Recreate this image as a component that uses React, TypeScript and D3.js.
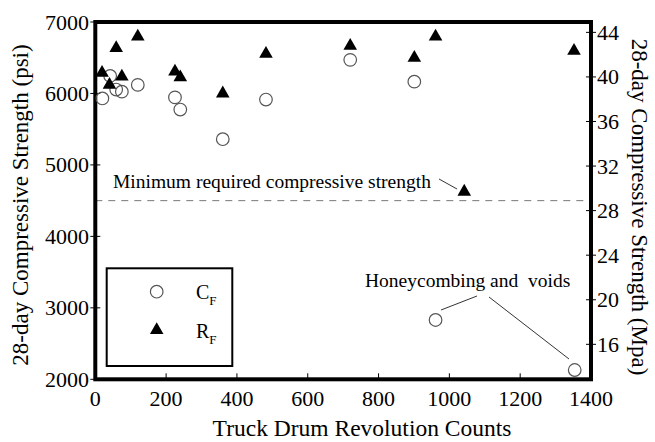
import React from "react";
import * as d3 from "d3";

const cfCounts = [20, 42, 59, 75, 120, 225, 240, 360, 482, 720, 901, 961, 1354];
const cfPsi = [5930, 6245, 6055, 6025, 6120, 5945, 5775, 5360, 5915, 6470, 6165, 2830, 2130];
const rfCounts = [19, 40, 59, 75, 120, 225, 240, 360, 482, 720, 901, 961, 1042, 1352];
const rfPsi = [6290, 6120, 6635, 6235, 6795, 6305, 6225, 6000, 6555, 6665, 6500, 6795, 4625, 6595];
const xTicks = [0, 200, 400, 600, 800, 1000, 1200, 1400];
const psiTicks = [2000, 3000, 4000, 5000, 6000, 7000];
const mpaTicks = [16, 20, 24, 28, 32, 36, 40, 44];
const minRequiredPsi = 4500;

const W = 655, H = 442;
const L = 95.3, R = 591, T = 22, B = 379.3;
const FONT = "'Liberation Serif', 'Times New Roman', serif";

export default function App() {
  const x = d3.scaleLinear().domain([0, 1400]).range([L, R]);
  const y = d3.scaleLinear().domain([2000, 7000]).range([B, T]);
  const y2 = d3.scaleLinear().domain([12.86, 44.93]).range([B, T]);
  const tri = d3.symbol().type(d3.symbolTriangle).size(80)();

  return (
    <svg width={W} height={H} style={{ position: "absolute", left: 0, top: 0 }} fontFamily={FONT}>
      <rect width={W} height={H} fill="#fff" />
      <line x1={L} x2={R} y1={y(minRequiredPsi)} y2={y(minRequiredPsi)} stroke="#777" strokeWidth={1} strokeDasharray="7,6" />
      {xTicks.map((t) => (
        <g key={"xt" + t}>
          <line x1={x(t)} x2={x(t)} y1={B} y2={B - 6} stroke="#000" strokeWidth={1} />
          <text x={x(t)} y={406} textAnchor="middle" fontSize={22}>{t}</text>
        </g>
      ))}
      {psiTicks.map((t) => (
        <g key={"yt" + t}>
          <line x1={L - 5} x2={L + 5} y1={y(t)} y2={y(t)} stroke="#000" strokeWidth={1} />
          <text x={89} y={y(t) + 7.5} textAnchor="end" fontSize={22}>{t}</text>
        </g>
      ))}
      {mpaTicks.map((t) => (
        <g key={"y2t" + t}>
          <line x1={R - 5} x2={R + 5} y1={y2(t)} y2={y2(t)} stroke="#000" strokeWidth={1} />
          <text x={597} y={y2(t) + 7.5} textAnchor="start" fontSize={22}>{t}</text>
        </g>
      ))}
      <rect x={L} y={T} width={R - L} height={B - T} fill="none" stroke="#000" strokeWidth={4} />
      {cfCounts.map((c, i) => (
        <circle key={"c" + i} cx={x(c)} cy={y(cfPsi[i])} r={6.3} fill="none" stroke="#555" strokeWidth={1.2} />
      ))}
      {rfCounts.map((c, i) => (
        <path key={"r" + i} d={tri as string} transform={`translate(${x(c)},${y(rfPsi[i])})`} fill="#000" />
      ))}
      <text x={113} y={187.5} fontSize={19.5}>Minimum required compressive strength</text>
      <line x1={439} y1={179} x2={457} y2={189} stroke="#333" strokeWidth={1} />
      <text x={365} y={286.5} fontSize={19.5} style={{ whiteSpace: "pre" }}>Honeycombing and  voids</text>
      <line x1={441} y1={310} x2={477} y2={296} stroke="#333" strokeWidth={1} />
      <line x1={489} y1={297} x2={569} y2={359} stroke="#333" strokeWidth={1} />
      <rect x={106.7} y={268.3} width={125.6} height={97.7} fill="#fff" stroke="#000" strokeWidth={2} />
      <circle cx={156.7} cy={291.7} r={6.3} fill="none" stroke="#555" strokeWidth={1.2} />
      <path d={tri as string} transform={`translate(156.7,330)`} fill="#000" />
      <text x={196} y={299} fontSize={20}>C<tspan dy={6} fontSize={13}>F</tspan></text>
      <text x={196} y={338} fontSize={20}>R<tspan dy={6} fontSize={13}>F</tspan></text>
      <text x={362} y={436} textAnchor="middle" fontSize={23.5}>Truck Drum Revolution Counts</text>
      <text transform={`translate(28,205) rotate(-90)`} textAnchor="middle" fontSize={23}>28-day Compressive Strength (psi)</text>
      <text transform={`translate(632,207) rotate(90)`} textAnchor="middle" fontSize={23}>28-day Compressive Strength (Mpa)</text>
    </svg>
  );
}
